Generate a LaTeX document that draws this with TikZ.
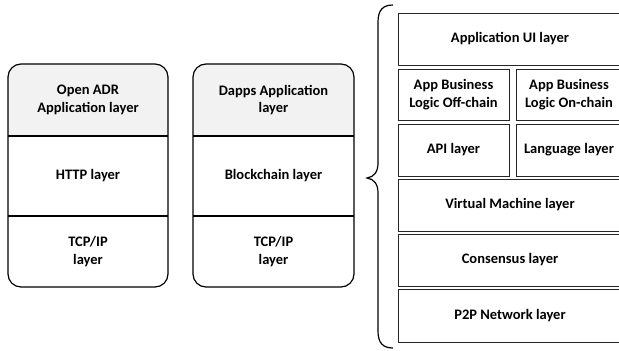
\documentclass[tikz,border=0pt]{standalone}
\usepackage{fontspec}
\setmainfont{Carlito}
\definecolor{topgray}{HTML}{F2F2F2}
\tikzset{
  lbl/.style={align=center, inner sep=0pt, font=\fontsize{14.5}{17.5}\selectfont\bfseries},
  stackline/.style={line width=1.2pt, black},
  cell/.style={draw=black!85, line width=1pt, inner sep=0pt, align=center,
    font=\fontsize{14.5}{17.5}\selectfont\bfseries},
}
\begin{document}
\begin{tikzpicture}[x=1pt,y=-1pt]
\useasboundingbox (0,0) rectangle (619,351);
\clip (0,0) rectangle (619,351);
% stack 1
\begin{scope}
  \clip (0,0) rectangle (619,136);
  \fill[topgray, rounded corners=13pt] (8,64) rectangle (168,287);
\end{scope}
\draw[stackline, rounded corners=13pt] (8,64) rectangle (168,287);
\draw[stackline] (8,136) -- (168,136);
\draw[stackline] (8,216) -- (168,216);
\node[lbl] (oadr) at (88,100) {Open ADR\\Application layer};
\node[lbl] (http) at (88,176) {HTTP layer};
\node[lbl] (tcp1) at (88,251.5) {TCP/IP\\layer};
% stack 2
\begin{scope}
  \clip (0,0) rectangle (619,136);
  \fill[topgray, rounded corners=13pt] (193,64) rectangle (354,287);
\end{scope}
\draw[stackline, rounded corners=13pt] (193,64) rectangle (354,287);
\draw[stackline] (193,136) -- (354,136);
\draw[stackline] (193,216) -- (354,216);
\node[lbl] (dapps) at (273.5,100) {Dapps Application\\layer};
\node[lbl] (bc) at (273.5,176) {Blockchain layer};
\node[lbl] (tcp2) at (273.5,251.5) {TCP/IP\\layer};
% brace
\draw[line width=1.2pt] (393,5) .. controls (383,5) and (378,10) .. (378,22)
  -- (378,163) .. controls (378,172) and (374,177) .. (367,178)
  .. controls (374,179) and (378,184) .. (378,193)
  -- (378,331) .. controls (378,343) and (383,348) .. (393,348);
% right stack
\node[cell, minimum width=224pt, minimum height=52pt] (ui) at (510,39) {Application UI layer};
\node[cell, minimum width=111pt, minimum height=51pt] (off) at (453.5,94.5) {App Business\\Logic Off-chain};
\node[cell, minimum width=106pt, minimum height=51pt] (on) at (569,94.5) {App Business\\Logic On-chain};
\node[cell, minimum width=111pt, minimum height=52pt] (api) at (453.5,150) {API layer};
\node[cell, minimum width=106pt, minimum height=52pt] (lang) at (569,150) {Language layer};
\node[cell, minimum width=224pt, minimum height=52pt] (vm) at (510,205) {Virtual Machine layer};
\node[cell, minimum width=224pt, minimum height=52pt] (cons) at (510,260) {Consensus layer};
\node[cell, minimum width=224pt, minimum height=53pt] (p2p) at (510,315.5) {P2P Network layer};
\end{tikzpicture}
\end{document}
